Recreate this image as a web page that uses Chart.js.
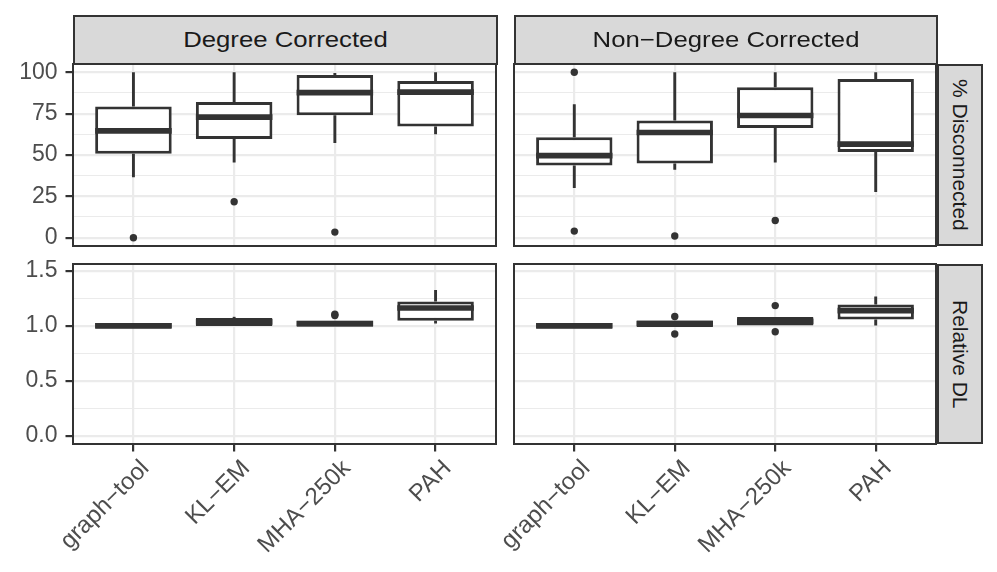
<!DOCTYPE html>
<html>
<head>
<meta charset="utf-8">
<script src="https://cdn.jsdelivr.net/npm/chart.js@4.4.1/dist/chart.umd.min.js"></script>
<style>
  body { margin: 0; background: #fff; width: 997px; height: 572px; position: relative; overflow: hidden; }
  canvas { position: absolute; }
  .strip {
    position: absolute; box-sizing: border-box; background: #D9D9D9;
    border: 2px solid #333333; color: #1A1A1A;
    font-family: "Liberation Sans", Arial, sans-serif;
    display: flex; align-items: center; justify-content: center;
    white-space: nowrap;
  }
  .strip.top span { font-size: 22px; display: inline-block; transform: scaleX(1.17); }
  .strip.side { writing-mode: vertical-rl; font-size: 21px; }
</style>
</head>
<body>

<canvas id="dcDisc" width="500" height="190" style="left:0;top:60px;"></canvas>
<canvas id="ndDisc" width="520" height="190" style="left:420px;top:60px;"></canvas>
<canvas id="dcDL" width="500" height="312" style="left:0;top:260px;"></canvas>
<canvas id="ndDL" width="520" height="312" style="left:420px;top:260px;"></canvas>

<div class="strip top" style="left:73px;top:15px;width:425px;height:50px;"><span>Degree Corrected</span></div>
<div class="strip top" style="left:514px;top:15px;width:424px;height:50px;"><span>Non&minus;Degree Corrected</span></div>
<div class="strip side" style="left:937px;top:64px;width:46px;height:182px;">% Disconnected</div>
<div class="strip side" style="left:937px;top:264px;width:46px;height:180px;">Relative DL</div>

<script>
// section 1# data

const categories = ["graph\u2212tool", "KL\u2212EM", "MHA\u2212250k", "PAH"];

// % Disconnected, degree corrected
const dcDiscLo  = [36.5, 45.5, 57.2, 62.6];
const dcDiscQ1  = [50.8, 59.6, 74.1, 67.2];
const dcDiscMed = [64.6, 72.9, 87.7, 88.0];
const dcDiscQ3  = [79.3, 82.0, 98.4, 94.8];
const dcDiscHi  = [100, 100, 99.6, 100];
const dcDiscOutX = [1, 2, 3];
const dcDiscOutY = [0, 21.7, 3.4];

// % Disconnected, non-degree corrected
const ndDiscLo  = [30.1, 41.1, 45.5, 27.7];
const ndDiscQ1  = [43.7, 44.8, 66.3, 51.8];
const ndDiscMed = [49.6, 63.6, 73.9, 56.6];
const ndDiscQ3  = [60.8, 70.8, 91.0, 96.0];
const ndDiscHi  = [80.7, 100, 100, 100];
const ndDiscOutX = [1, 1, 2, 3];
const ndDiscOutY = [100, 4.0, 1.0, 10.4];

// Relative DL, degree corrected
const dcDLLo  = [0.972, 0.998, 0.991, 1.020];
const dcDLQ1  = [0.972, 0.998, 0.991, 1.045];
const dcDLMed = [1.000, 1.035, 1.020, 1.161];
const dcDLQ3  = [1.024, 1.070, 1.045, 1.220];
const dcDLHi  = [1.024, 1.081, 1.045, 1.325];
const dcDLOutX = [3, 3];
const dcDLOutY = [1.093, 1.105];

// Relative DL, non-degree corrected
const ndDLLo  = [0.972, 0.988, 1.003, 1.003];
const ndDLQ1  = [0.972, 0.988, 1.003, 1.057];
const ndDLMed = [1.000, 1.020, 1.040, 1.137];
const ndDLQ3  = [1.024, 1.048, 1.079, 1.192];
const ndDLHi  = [1.024, 1.048, 1.079, 1.265];
const ndDLOutX = [2, 2, 3, 3];
const ndDLOutY = [1.084, 0.925, 1.183, 0.946];

// tick labels
const discMajor = [0, 25, 50, 75, 100];
const discMinor = [12.5, 37.5, 62.5, 87.5];
const discLabels = ["0", "25", "50", "75", "100"];
const dlMajor = [0, 0.5, 1.0, 1.5];
const dlMinor = [0.25, 0.75, 1.25];
const dlLabels = ["0.0", "0.5", "1.0", "1.5"];

// section 2# box plot drawing

Chart.defaults.font.family = "'Liberation Sans', Arial, sans-serif";

const dark = "#333333";
const gridCol = "#EBEBEB";

const boxPlugin = {
  id: "boxes",
  beforeDatasetDraw(chart, args, opts) {
    if (args.index !== 0) return;
    const ctx = chart.ctx, xs = chart.scales.x, ys = chart.scales.y;
    ctx.save();
    ctx.strokeStyle = dark;
    ctx.lineWidth = 2.9;
    opts.med.forEach(function(m, i) {
      const x = xs.getPixelForValue(i + 1);
      ctx.beginPath();
      ctx.moveTo(x, ys.getPixelForValue(opts.q3[i]));
      ctx.lineTo(x, ys.getPixelForValue(opts.hi[i]));
      ctx.moveTo(x, ys.getPixelForValue(opts.q1[i]));
      ctx.lineTo(x, ys.getPixelForValue(opts.lo[i]));
      ctx.stroke();
    });
    ctx.restore();
  },
  afterDatasetDraw(chart, args, opts) {
    if (args.index !== 0) return;
    const ctx = chart.ctx, ys = chart.scales.y;
    const bars = chart.getDatasetMeta(0).data;
    ctx.save();
    ctx.strokeStyle = dark;
    ctx.lineWidth = 5.6;
    opts.med.forEach(function(m, i) {
      const b = bars[i];
      const y = ys.getPixelForValue(m);
      ctx.beginPath();
      ctx.moveTo(b.x - b.width / 2, y);
      ctx.lineTo(b.x + b.width / 2, y);
      ctx.stroke();
    });
    ctx.restore();
  },
  afterDraw(chart) {
    const a = chart.chartArea, ctx = chart.ctx;
    ctx.save();
    ctx.strokeStyle = dark;
    ctx.lineWidth = 2;
    ctx.strokeRect(a.left, a.top, a.right - a.left, a.bottom - a.top);
    ctx.restore();
  }
};

function makePanel(id, s, cfg) {
  const isMajor = v => cfg.major.indexOf(v) !== -1;
  const boxData = categories.map((c, i) => ({ x: i + 1, y: [s.q1[i], s.q3[i]] }));
  const outData = s.outX.map((x, i) => ({ x: x, y: s.outY[i] }));

  return new Chart(document.getElementById(id), {
    type: "bar",
    data: {
      datasets: [{
        data: boxData,
        backgroundColor: "#FFFFFF",
        borderColor: dark,
        borderWidth: 3,
        borderSkipped: false,
        barPercentage: 0.76,
        categoryPercentage: 1
      }, {
        type: "scatter",
        data: outData,
        pointRadius: 3.7,
        pointBackgroundColor: dark,
        pointBorderWidth: 0,
        showLine: false
      }]
    },
    options: {
      responsive: false,
      animation: false,
      layout: { padding: { top: 4, right: 2, bottom: cfg.showX ? 0 : 4, left: 0 } },
      plugins: {
        legend: { display: false },
        tooltip: { enabled: false },
        boxes: { lo: s.lo, q1: s.q1, med: s.med, q3: s.q3, hi: s.hi }
      },
      scales: {
        x: {
          type: "linear",
          min: 0.4,
          max: 4.6,
          offset: false,
          afterBuildTicks: sc => { sc.ticks = categories.map((c, i) => ({ value: i + 1 })); },
          afterFit: sc => {
            sc.height = cfg.showX ? 128 : 0;
            sc.paddingLeft = 0; sc.paddingRight = 0;
          },
          border: { display: false },
          grid: {
            color: gridCol,
            lineWidth: 2.2,
            offset: false,
            drawTicks: cfg.showX,
            tickLength: 7.5,
            tickColor: dark,
            tickWidth: 2.2
          },
          ticks: {
            display: cfg.showX,
            autoSkip: false,
            minRotation: 45,
            maxRotation: 45,
            padding: 3,
            labelOffset: 12,
            color: "#4D4D4D",
            font: { size: 24 },
            callback: v => categories[v - 1]
          }
        },
        y: {
          min: cfg.min,
          max: cfg.max,
          afterBuildTicks: sc => { sc.ticks = cfg.major.concat(cfg.minor).map(v => ({ value: v })); },
          afterFit: sc => {
            sc.width = cfg.showY ? 73 : 94;
            sc.paddingTop = 0; sc.paddingBottom = 0;
          },
          border: { display: false },
          grid: {
            color: gridCol,
            lineWidth: c => isMajor(c.tick.value) ? 2.2 : 1.1,
            drawTicks: cfg.showY,
            tickLength: 7.5,
            tickColor: c => isMajor(c.tick.value) ? dark : "rgba(0,0,0,0)",
            tickWidth: 2.2
          },
          ticks: {
            display: cfg.showY,
            autoSkip: false,
            padding: 8,
            color: "#4D4D4D",
            font: { size: 23 },
            callback: v => isMajor(v) ? cfg.labels[cfg.major.indexOf(v)] : ""
          }
        }
      }
    },
    plugins: [boxPlugin]
  });
}

const discAxis = { min: -5, max: 105, major: discMajor, minor: discMinor, labels: discLabels };
const dlAxis = { min: -0.072, max: 1.56, major: dlMajor, minor: dlMinor, labels: dlLabels };

makePanel("dcDisc",
  { lo: dcDiscLo, q1: dcDiscQ1, med: dcDiscMed, q3: dcDiscQ3, hi: dcDiscHi, outX: dcDiscOutX, outY: dcDiscOutY },
  Object.assign({ showX: false, showY: true }, discAxis));

makePanel("ndDisc",
  { lo: ndDiscLo, q1: ndDiscQ1, med: ndDiscMed, q3: ndDiscQ3, hi: ndDiscHi, outX: ndDiscOutX, outY: ndDiscOutY },
  Object.assign({ showX: false, showY: false }, discAxis));

makePanel("dcDL",
  { lo: dcDLLo, q1: dcDLQ1, med: dcDLMed, q3: dcDLQ3, hi: dcDLHi, outX: dcDLOutX, outY: dcDLOutY },
  Object.assign({ showX: true, showY: true }, dlAxis));

makePanel("ndDL",
  { lo: ndDLLo, q1: ndDLQ1, med: ndDLMed, q3: ndDLQ3, hi: ndDLHi, outX: ndDLOutX, outY: ndDLOutY },
  Object.assign({ showX: true, showY: false }, dlAxis));
</script>
</body>
</html>
